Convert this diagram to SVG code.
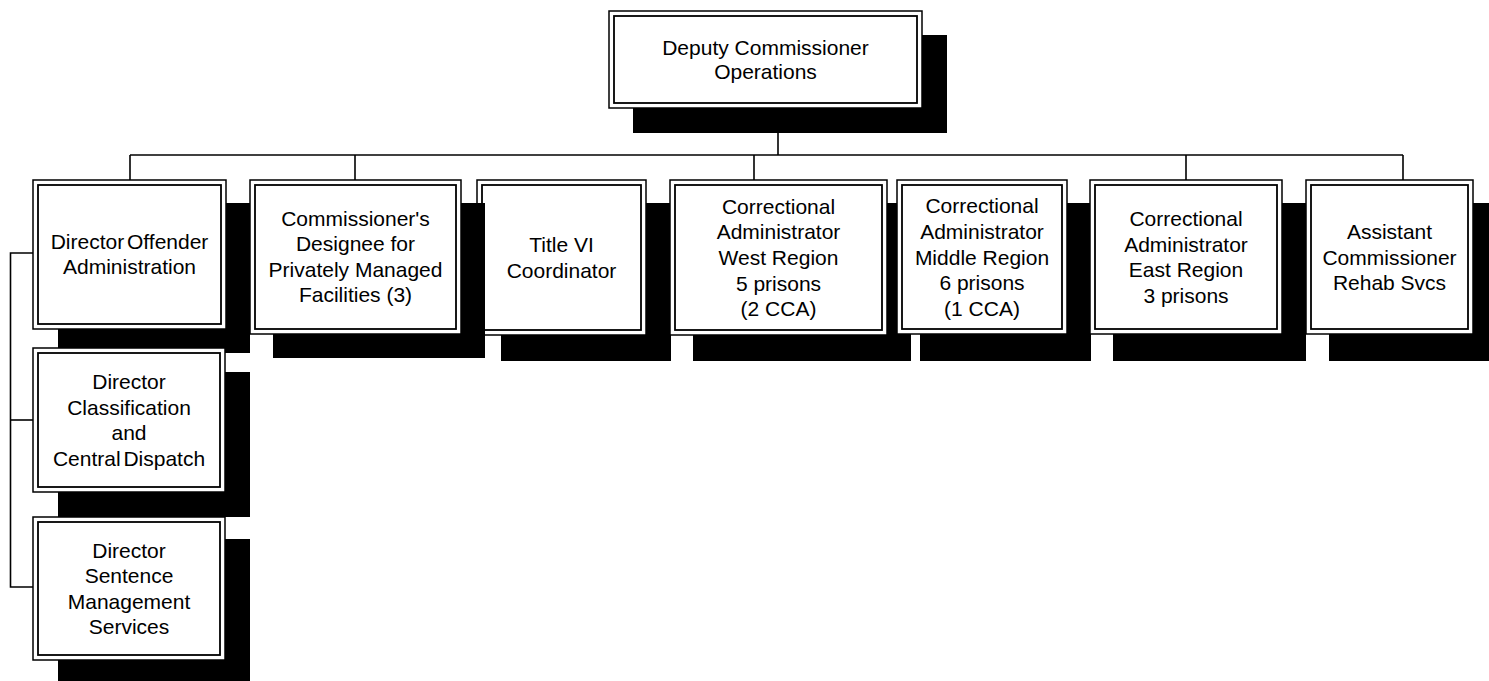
<svg xmlns="http://www.w3.org/2000/svg" width="1489" height="681" viewBox="0 0 1489 681">
<style>
.sh{fill:#000}
.out{fill:#fff;stroke:#000;stroke-width:1.5}
.in{fill:none;stroke:#000;stroke-width:1.8}
.t{font-family:"Liberation Sans",Arial,sans-serif;font-size:21px;fill:#000;text-anchor:middle}
.c{fill:none;stroke:#000;stroke-width:1.6}
</style>
<rect width="1489" height="681" fill="#fff"/>
<g id="connectors">
<line class="c" x1="778" y1="108" x2="778" y2="155"/>
<line class="c" x1="130" y1="155" x2="1403" y2="155"/>
<line class="c" x1="130" y1="155" x2="130" y2="180"/>
<line class="c" x1="355" y1="155" x2="355" y2="180"/>
<line class="c" x1="754" y1="155" x2="754" y2="180"/>
<line class="c" x1="1186" y1="155" x2="1186" y2="180"/>
<line class="c" x1="1403" y1="155" x2="1403" y2="180"/>
<polyline class="c" points="33,253 10.5,253 10.5,587 33,587"/>
<line class="c" x1="10.5" y1="420" x2="33" y2="420"/>
</g>
<g id="n-top">
<rect class="sh" x="633" y="35" width="314" height="98"/>
<rect class="out" x="609" y="11" width="313" height="97"/>
<rect class="in" x="614" y="16" width="303" height="87"/>
<text class="t" x="765.5" y="55">Deputy Commissioner</text>
<text class="t" x="765.5" y="79">Operations</text>
</g>
<g id="n-offender">
<rect class="sh" x="58" y="203" width="192" height="150"/>
<rect class="out" x="33" y="180" width="193" height="149"/>
<rect class="in" x="38" y="185" width="183" height="139"/>
<text class="t" x="129.5" y="249" word-spacing="-3">Director Offender</text>
<text class="t" x="129.5" y="274">Administration</text>
</g>
<g id="n-classification">
<rect class="sh" x="58" y="372" width="192" height="145"/>
<rect class="out" x="33" y="348" width="192" height="144"/>
<rect class="in" x="38" y="353" width="182" height="134"/>
<text class="t" x="129" y="389">Director</text>
<text class="t" x="129" y="414.6">Classification</text>
<text class="t" x="129" y="440.2">and</text>
<text class="t" x="129" y="465.8" word-spacing="-3">Central Dispatch</text>
</g>
<g id="n-sentence">
<rect class="sh" x="58" y="539" width="192" height="150"/>
<rect class="out" x="33" y="517" width="192" height="143"/>
<rect class="in" x="38" y="522" width="182" height="133"/>
<text class="t" x="129" y="557.6">Director</text>
<text class="t" x="129" y="583.2">Sentence</text>
<text class="t" x="129" y="608.8">Management</text>
<text class="t" x="129" y="634.4">Services</text>
</g>
<g id="n-title6">
<rect class="sh" x="501" y="203" width="170" height="158"/>
<rect class="out" x="477" y="180" width="169" height="155"/>
<rect class="in" x="482" y="185" width="159" height="145"/>
<text class="t" x="561.5" y="252.2">Title VI</text>
<text class="t" x="561.5" y="277.8">Coordinator</text>
</g>
<g id="n-designee">
<rect class="sh" x="273" y="203" width="212" height="155"/>
<rect class="out" x="250" y="180" width="211" height="154"/>
<rect class="in" x="255" y="185" width="201" height="144"/>
<text class="t" x="355.5" y="225.6">Commissioner's</text>
<text class="t" x="355.5" y="251.2">Designee for</text>
<text class="t" x="355.5" y="276.8">Privately Managed</text>
<text class="t" x="355.5" y="302.4">Facilities (3)</text>
</g>
<g id="n-west">
<rect class="sh" x="693" y="203" width="218" height="158"/>
<rect class="out" x="670" y="180" width="217" height="155"/>
<rect class="in" x="675" y="185" width="207" height="145"/>
<text class="t" x="778.5" y="213.8">Correctional</text>
<text class="t" x="778.5" y="239.4">Administrator</text>
<text class="t" x="778.5" y="265">West Region</text>
<text class="t" x="778.5" y="290.6">5 prisons</text>
<text class="t" x="778.5" y="316.2">(2 CCA)</text>
</g>
<g id="n-middle">
<rect class="sh" x="920" y="203" width="171" height="158"/>
<rect class="out" x="897" y="180" width="170" height="154"/>
<rect class="in" x="902" y="185" width="160" height="144"/>
<text class="t" x="982" y="213.3">Correctional</text>
<text class="t" x="982" y="238.9">Administrator</text>
<text class="t" x="982" y="264.5">Middle Region</text>
<text class="t" x="982" y="290.1">6 prisons</text>
<text class="t" x="982" y="315.7">(1 CCA)</text>
</g>
<g id="n-east">
<rect class="sh" x="1113" y="203" width="193" height="158"/>
<rect class="out" x="1090" y="180" width="192" height="154"/>
<rect class="in" x="1095" y="185" width="182" height="144"/>
<text class="t" x="1186" y="226.1">Correctional</text>
<text class="t" x="1186" y="251.7">Administrator</text>
<text class="t" x="1186" y="277.3">East Region</text>
<text class="t" x="1186" y="302.9">3 prisons</text>
</g>
<g id="n-rehab">
<rect class="sh" x="1329" y="203" width="170" height="158"/>
<rect class="out" x="1306" y="180" width="167" height="154"/>
<rect class="in" x="1311" y="185" width="157" height="144"/>
<text class="t" x="1389.5" y="238.9">Assistant</text>
<text class="t" x="1389.5" y="264.5">Commissioner</text>
<text class="t" x="1389.5" y="290.1">Rehab Svcs</text>
</g>
</svg>
